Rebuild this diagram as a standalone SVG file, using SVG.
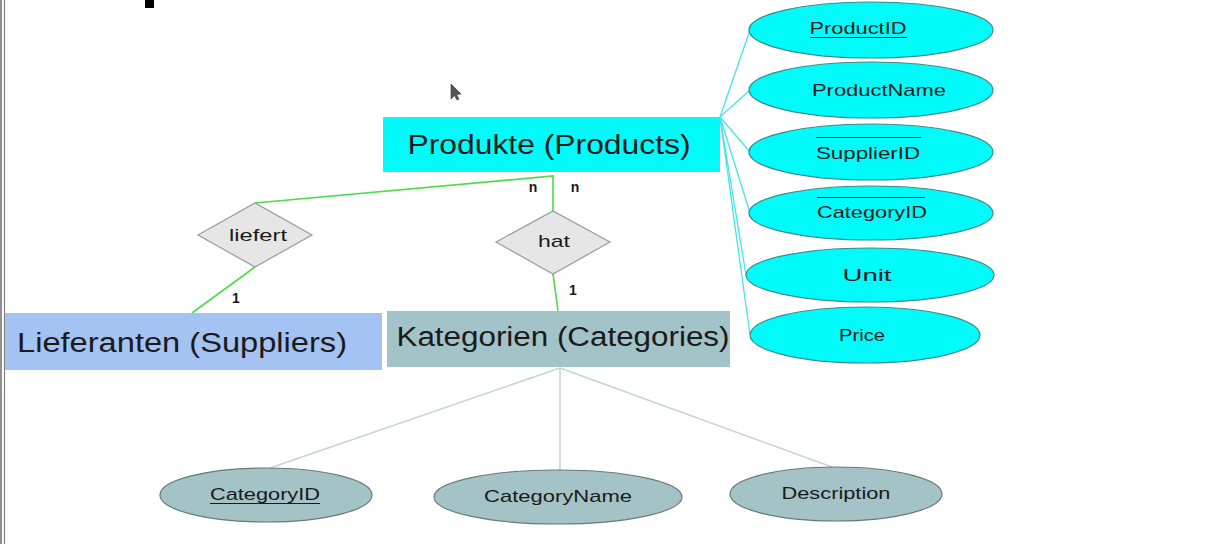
<svg xmlns="http://www.w3.org/2000/svg" width="1211" height="544" viewBox="0 0 1211 544">
<style>
text{font-family:"Liberation Sans","DejaVu Sans",sans-serif;fill:#1a1a1a;text-anchor:middle}
.ent{font-size:27px}
.attr{font-size:17px}
.rel{font-size:17px}
.card{font-size:14px;font-weight:bold}
.pa{fill:#00fbfb;stroke:#3d8a8a;stroke-width:1.2}
.ca{fill:#a3c3c6;stroke:#6b7878;stroke-width:1.2}
.dia{fill:#e6e6e6;stroke:#9a9a9a;stroke-width:1.2}
.g{stroke:#4cdc4c;stroke-width:1.6;fill:none}
.cy{stroke:#45e3ea;stroke-width:1.3;fill:none}
.gr{stroke:#c9d2d2;stroke-width:1.6;fill:none}
.ul{stroke:#1a1a1a;stroke-width:1.2}
</style>
<rect width="1211" height="544" fill="#ffffff"/>
<line x1="1" y1="0" x2="1" y2="544" stroke="#6b6b6b" stroke-width="1.5"/>
<line x1="4.5" y1="0" x2="4.5" y2="544" stroke="#8a7f78" stroke-width="1.2"/>
<rect x="145" y="0" width="9" height="8" fill="#000"/>
<path d="M451,84 L451,99 L454.5,95.5 L457,100 L459,99 L456.5,94.5 L461,94 Z" fill="#555" stroke="#333" stroke-width="0.6"/>

<g id="connectors">
  <polyline class="g" points="255,203 553,176 553,211"/>
  <line class="g" x1="255" y1="267" x2="192" y2="313"/>
  <line class="g" x1="553" y1="274" x2="558" y2="311"/>
  <line class="cy" x1="720" y1="117" x2="750" y2="30"/>
  <line class="cy" x1="720" y1="117" x2="750" y2="90"/>
  <line class="cy" x1="720" y1="117" x2="750" y2="152"/>
  <line class="cy" x1="720" y1="117" x2="750" y2="213"/>
  <line class="cy" x1="720" y1="117" x2="746" y2="275"/>
  <line class="cy" x1="720" y1="117" x2="750" y2="335"/>
  <line class="gr" x1="560" y1="368" x2="270" y2="468"/>
  <line class="gr" x1="560" y1="368" x2="560" y2="470"/>
  <line class="gr" x1="560" y1="368" x2="832" y2="467"/>
  <text class="card" x="533" y="192">n</text>
  <text class="card" x="575" y="192">n</text>
  <text class="card" x="236" y="303">1</text>
  <text class="card" x="573" y="295">1</text>
</g>

<g id="products">
  <rect x="383" y="117" width="337" height="55" fill="#00fbfb"/>
  <text class="ent" x="549" y="154" textLength="283" lengthAdjust="spacingAndGlyphs">Produkte (Products)</text>
</g>
<g id="suppliers">
  <rect x="5" y="313" width="377" height="57" fill="#a4c2f2"/>
  <text class="ent" x="182" y="352" textLength="330" lengthAdjust="spacingAndGlyphs">Lieferanten (Suppliers)</text>
</g>
<g id="categories">
  <rect x="387" y="311" width="343" height="56" fill="#a2c3c7"/>
  <text class="ent" x="563" y="346" textLength="333" lengthAdjust="spacingAndGlyphs">Kategorien (Categories)</text>
</g>

<g id="rel-liefert">
  <polygon class="dia" points="198,235 255,203 312,235 255,267"/>
  <text class="rel" x="258" y="241" textLength="58" lengthAdjust="spacingAndGlyphs">liefert</text>
</g>
<g id="rel-hat">
  <polygon class="dia" points="496,242 553,211 610,242 553,274"/>
  <text class="rel" x="554" y="247" textLength="32" lengthAdjust="spacingAndGlyphs">hat</text>
</g>

<g id="attr-productid">
  <ellipse class="pa" cx="871" cy="30" rx="122" ry="28"/>
  <text class="attr" x="858" y="34" textLength="97" lengthAdjust="spacingAndGlyphs">ProductID</text>
  <line class="ul" x1="810" y1="37.5" x2="907" y2="37.5"/>
</g>
<g id="attr-productname">
  <ellipse class="pa" cx="871" cy="90" rx="122" ry="28"/>
  <text class="attr" x="879" y="96" textLength="134" lengthAdjust="spacingAndGlyphs">ProductName</text>
</g>
<g id="attr-supplierid">
  <ellipse class="pa" cx="871" cy="152" rx="122" ry="28"/>
  <text class="attr" x="868" y="159" textLength="104" lengthAdjust="spacingAndGlyphs">SupplierID</text>
  <line class="ul" x1="816" y1="137.5" x2="921" y2="137.5"/>
</g>
<g id="attr-categoryid">
  <ellipse class="pa" cx="871" cy="213" rx="122" ry="27"/>
  <text class="attr" x="872" y="218" textLength="110" lengthAdjust="spacingAndGlyphs">CategoryID</text>
  <line class="ul" x1="817" y1="197.5" x2="925" y2="197.5"/>
</g>
<g id="attr-unit">
  <ellipse class="pa" cx="870" cy="275" rx="124" ry="27"/>
  <text class="attr" x="867" y="281" textLength="49" lengthAdjust="spacingAndGlyphs">Unit</text>
</g>
<g id="attr-price">
  <ellipse class="pa" cx="865" cy="335" rx="115" ry="28"/>
  <text class="attr" x="862" y="341" textLength="46" lengthAdjust="spacingAndGlyphs">Price</text>
</g>

<g id="cat-categoryid">
  <ellipse class="ca" cx="266" cy="495" rx="106" ry="27"/>
  <text class="attr" x="265" y="500" textLength="110" lengthAdjust="spacingAndGlyphs">CategoryID</text>
  <line class="ul" x1="210" y1="503.5" x2="320" y2="503.5"/>
</g>
<g id="cat-categoryname">
  <ellipse class="ca" cx="558" cy="497" rx="124" ry="27"/>
  <text class="attr" x="558" y="502" textLength="148" lengthAdjust="spacingAndGlyphs">CategoryName</text>
</g>
<g id="cat-description">
  <ellipse class="ca" cx="836" cy="494" rx="106" ry="27"/>
  <text class="attr" x="836" y="499" textLength="109" lengthAdjust="spacingAndGlyphs">Description</text>
</g>
</svg>
